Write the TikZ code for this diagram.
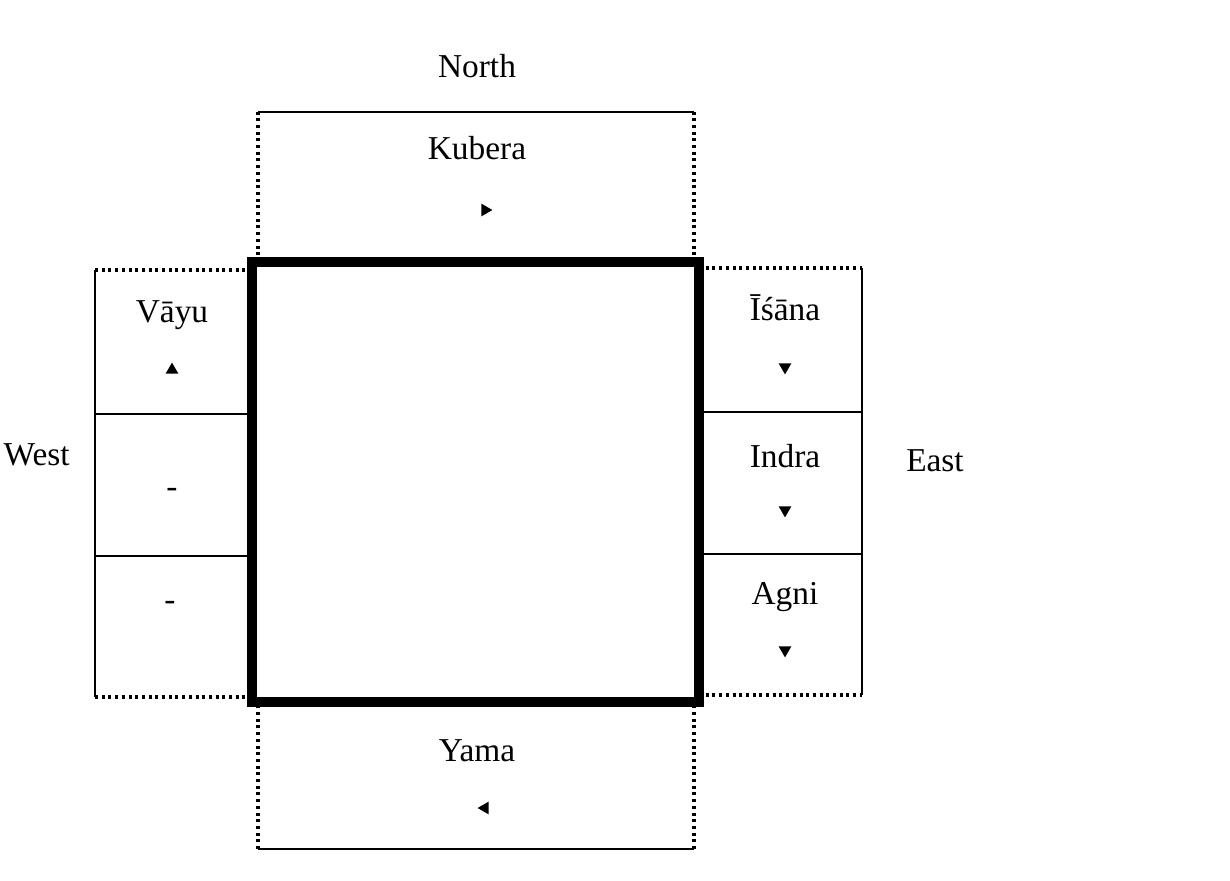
\documentclass[tikz,border=0pt]{standalone}
\usepackage{fontspec}
\setmainfont{Liberation Serif}
\usetikzlibrary{shapes.geometric}
\tikzset{
  wall/.style={line width=3.1pt},
  rim/.style={line width=0.8pt},
  dotrim/.style={line width=1pt, dash pattern=on 0.3mm off 0.37mm},
  deity/.style={font=\fontsize{9.5}{11}\selectfont, inner sep=0pt, anchor=base},
  pointer/.style={regular polygon, regular polygon sides=3, fill=black,
    inner sep=0pt, minimum size=4.2pt},
}
\begin{document}
\begin{tikzpicture}[
	y=1cm,
	x=1cm,
	scale=1] {

\def\xa{0.95}
\def\xb{2.52}
\def\xc{2.58}
\def\xd{6.94}
\def\xe{6.99}
\def\xf{8.62}
\def\ya{0.31}
\def\yb{1.78}
\def\yc{6.18}
\def\yd{7.68}
\useasboundingbox (0,0) rectangle (12.3,8.8);

% north cell
\draw[dotrim] (\xc,\yc) -- (\xc,\yd);
\draw[dotrim] (\xd,\yc) -- (\xd,\yd);
\draw[rim] (\xc,\yd) -- (\xd,\yd);

% south cell
\draw[dotrim] (\xc,\ya) -- (\xc,\yb);
\draw[dotrim] (\xd,\ya) -- (\xd,\yb);
\draw[rim] (\xc,\ya) -- (\xd,\ya);

% west cells
\draw[rim] (\xa,1.83) -- (\xa,6.10);
\draw[dotrim] (\xa,6.10) -- (\xb,6.10);
\draw[dotrim] (\xa,1.83) -- (\xb,1.83);
\draw[rim] (\xa,4.66) -- (\xb,4.66);
\draw[rim] (\xa,3.24) -- (\xb,3.24);

% east cells
\draw[rim] (\xf,1.85) -- (\xf,6.12);
\draw[dotrim] (\xe,6.12) -- (\xf,6.12);
\draw[dotrim] (\xe,1.85) -- (\xf,1.85);
\draw[rim] (\xe,4.68) -- (\xf,4.68);
\draw[rim] (\xe,3.26) -- (\xf,3.26);

% central square
\draw[wall] (\xb,\yb) rectangle (\xe,\yc);

% quarters
\node[deity] (north) at (4.77,8.02) {North};
\node[deity] (east) at (9.35,4.09) {East};
\node[deity, anchor=base west] (west) at (0.03,4.15) {West};

% guardians
\node[deity] (kubera) at (4.77,7.20) {Kubera};
\node[pointer, shape border rotate=-90] (kubera-m) at (4.85,6.70) {};
\node[deity] (yama) at (4.77,1.19) {Yama};
\node[pointer, shape border rotate=90] (yama-m) at (4.85,0.72) {};
\node[deity] (vayu) at (1.72,5.57) {Vāyu};
\node[pointer] (vayu-m) at (1.72,5.10) {};
\node[deity, anchor=center] (west-a) at (1.72,3.87) {-};
\node[deity, anchor=center] (west-b) at (1.70,2.74) {-};
\node[deity] (isana) at (7.85,5.59) {Īśāna};
\node[pointer, shape border rotate=180] (isana-m) at (7.85,5.13) {};
\node[deity] (indra) at (7.85,4.13) {Indra};
\node[pointer, shape border rotate=180] (indra-m) at (7.85,3.70) {};
\node[deity] (agni) at (7.85,2.76) {Agni};
\node[pointer, shape border rotate=180] (agni-m) at (7.85,2.30) {};
}\end{tikzpicture}
\end{document}
